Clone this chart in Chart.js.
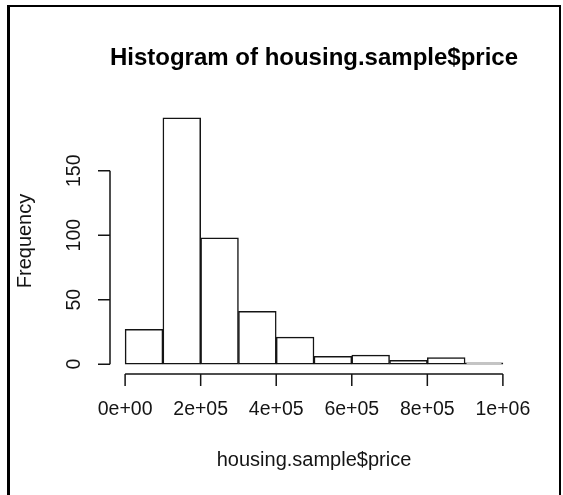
<!DOCTYPE html>
<html>
<head>
<meta charset="utf-8">
<script src="https://cdn.jsdelivr.net/npm/chart.js@4/dist/chart.umd.min.js"></script>
<style>
  html, body { margin: 0; padding: 0; background: #fff; overflow: hidden; }
  #wrap { position: relative; width: 563px; height: 495px; }
  #frame { position: absolute; left: 7px; top: 5px; width: 549px; height: 520px;
           border-left: 3px solid #000; border-top: 2px solid #000; border-right: 2px solid #000; }
  canvas { position: absolute; left: 0; top: 0; }
</style>
</head>
<body>
<div id="wrap">
  <canvas id="c" width="563" height="495"></canvas>
  <div id="frame"></div>
</div>
<script>
// ---- data ----
const breaks = [0, 100000, 200000, 300000, 400000, 500000, 600000, 700000, 800000, 900000, 1000000];
const counts = [27, 191, 98, 41, 21, 6, 7, 3, 5, 1];
const xTickValues = [0, 200000, 400000, 600000, 800000, 1000000];
const xTickLabels = ["0e+00", "2e+05", "4e+05", "6e+05", "8e+05", "1e+06"];
const yTickValues = [0, 50, 100, 150];
const yTickLabels = ["0", "50", "100", "150"];
const titleText = "Histogram of housing.sample$price";
const xTitle = "housing.sample$price";
const yTitle = "Frequency";

const points = counts.map((c, i) => ({ x: (breaks[i] + breaks[i + 1]) / 2, y: c }));
const xMinB = breaks[0], xMaxB = breaks[breaks.length - 1];
const xPad = 0.04 * (xMaxB - xMinB);
const yMaxC = Math.max(...counts);
const yPad = 0.04 * yMaxC;

const FONT = "'Liberation Sans', Arial, Helvetica, sans-serif";
const INK = '#141414';

const rAxes = {
  id: 'rAxes',
  afterDraw(chart) {
    const ctx = chart.ctx;
    const xs = chart.scales.x, ys = chart.scales.y, a = chart.chartArea;
    ctx.save();
    ctx.strokeStyle = INK;
    ctx.fillStyle = INK;
    ctx.lineWidth = 1.5;
    // x axis
    const xb = a.bottom;
    ctx.beginPath();
    ctx.moveTo(xs.getPixelForValue(xTickValues[0]), xb);
    ctx.lineTo(xs.getPixelForValue(xTickValues[xTickValues.length - 1]), xb);
    xTickValues.forEach(v => {
      const px = xs.getPixelForValue(v);
      ctx.moveTo(px, xb);
      ctx.lineTo(px, xb + 12);
    });
    ctx.stroke();
    ctx.font = "19.5px " + FONT;
    ctx.textAlign = 'center';
    ctx.textBaseline = 'middle';
    xTickValues.forEach((v, i) => {
      ctx.fillText(xTickLabels[i], xs.getPixelForValue(v), xb + 36);
    });
    // y axis
    const yl = a.left;
    ctx.beginPath();
    ctx.moveTo(yl, ys.getPixelForValue(yTickValues[0]));
    ctx.lineTo(yl, ys.getPixelForValue(yTickValues[yTickValues.length - 1]));
    yTickValues.forEach(v => {
      const py = ys.getPixelForValue(v);
      ctx.moveTo(yl, py);
      ctx.lineTo(yl - 12, py);
    });
    ctx.stroke();
    yTickValues.forEach((v, i) => {
      ctx.save();
      ctx.translate(yl - 35, ys.getPixelForValue(v));
      ctx.rotate(-Math.PI / 2);
      ctx.fillText(yTickLabels[i], 0, 0);
      ctx.restore();
    });
    // titles
    const cx = (a.left + a.right) / 2, cy = (a.top + a.bottom) / 2;
    ctx.font = "bold 24px " + FONT;
    ctx.fillStyle = '#000';
    ctx.fillText(titleText, cx, 58);
    ctx.fillStyle = INK;
    ctx.font = "20px " + FONT;
    ctx.fillText(xTitle, cx, 460);
    ctx.save();
    ctx.translate(25, cy);
    ctx.rotate(-Math.PI / 2);
    ctx.fillText(yTitle, 0, 0);
    ctx.restore();
    ctx.restore();
  }
};

new Chart(document.getElementById('c'), {
  type: 'bar',
  data: {
    datasets: [{
      data: points,
      backgroundColor: '#ffffff',
      borderColor: INK,
      borderWidth: 1.5,
      borderSkipped: false,
      barPercentage: 1,
      categoryPercentage: 1
    }]
  },
  options: {
    responsive: false,
    animation: false,
    devicePixelRatio: 1,
    layout: { padding: { left: 110, right: 45, top: 108, bottom: 121 } },
    plugins: { legend: { display: false }, title: { display: false }, tooltip: { enabled: false } },
    scales: {
      x: {
        type: 'linear', display: false, offset: false,
        min: xMinB - xPad, max: xMaxB + xPad,
        afterBuildTicks: s => { s.ticks = breaks.map(v => ({ value: v })); }
      },
      y: {
        type: 'linear', display: false,
        min: -yPad, max: yMaxC + yPad
      }
    }
  },
  plugins: [rAxes]
});
</script>
</body>
</html>
